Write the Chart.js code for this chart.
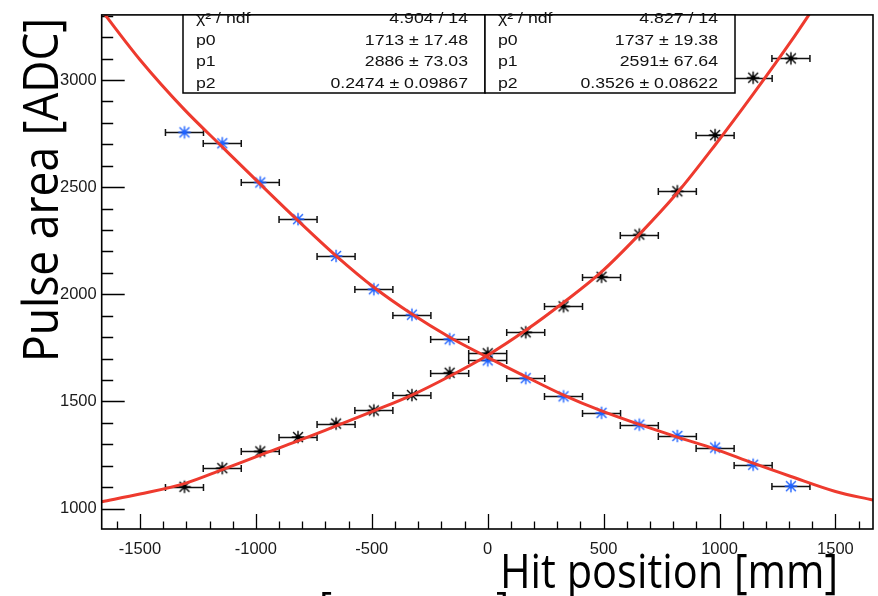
<!DOCTYPE html>
<html>
<head>
<meta charset="utf-8">
<script src="https://cdn.jsdelivr.net/npm/chart.js@4.4.1/dist/chart.umd.min.js"></script>
<style>
  html, body { margin: 0; padding: 0; background: #fff; overflow: hidden; }
  canvas { display: block; }
</style>
</head>
<body>
<canvas id="c" width="878" height="596"></canvas>
<script>
// Bin centres along the bar (mm); horizontal error bars span half a bin each side
const hitPositions = [-1308, -1145, -981, -818, -654, -491, -327, -164, 0, 164, 327, 491, 654, 818, 981, 1145, 1308];
const binHalfWidth = 82;

// Mean pulse area per bin, one series per read-out end
const pulseAreaBlack = [1102, 1189, 1267, 1334, 1397, 1458, 1530, 1634, 1725, 1823, 1944, 2082, 2279, 2481, 2743, 3011, 3101];
const pulseAreaBlue  = [2756, 2705, 2522, 2351, 2179, 2024, 1905, 1791, 1692, 1609, 1524, 1447, 1392, 1339, 1285, 1205, 1105];

// Fitted curves, sampled along the bar
const fitPositionsBlack = [-1665, -1500, -1308, -1145, -981, -818, -654, -491, -327, -164, 0, 164, 327, 491, 654, 818, 981, 1145, 1308, 1420];
const fitValuesBlack    = [1032, 1068, 1117, 1182, 1250, 1316, 1386, 1456, 1530, 1618, 1716, 1832, 1962, 2105, 2280, 2474, 2697, 2934, 3180, 3360];
const fitPositionsBlue  = [-1665, -1500, -1308, -1145, -981, -818, -654, -491, -327, -164, 0, 164, 327, 491, 654, 818, 981, 1145, 1308, 1500, 1662];
const fitValuesBlue     = [3325, 3095, 2862, 2688, 2514, 2344, 2180, 2033, 1908, 1800, 1706, 1616, 1530, 1456, 1393, 1334, 1278, 1212, 1150, 1080, 1040];

// Axis ticks
const xTickValues = [-1500, -1000, -500, 0, 500, 1000, 1500];
const yTickValues = [1000, 1500, 2000, 2500, 3000];

// Fit statistics boxes
const statsLabels = ['χ² / ndf', 'p0', 'p1', 'p2'];
const statsBlack  = ['4.904 / 14', '1713 ± 17.48', '2886 ± 73.03', '0.2474 ± 0.09867'];
const statsBlue   = ['4.827 / 14', '1737 ± 19.38', '2591± 67.64', '0.3526 ± 0.08622'];

const xTitle = 'Hit position [mm]';
const yTitle = 'Pulse area [ADC]';
// tops of a cut-off line of text below the plot
const clippedLine = ['[', ']'];

const RED = '#ee3a2e';
const BLUE = '#1f62ff';
const INK = '#111';

// Asterisk marker with a filled centre
function makeMarker(color) {
  const c = document.createElement('canvas');
  c.width = 16; c.height = 16;
  const g = c.getContext('2d');
  g.strokeStyle = color; g.fillStyle = color; g.lineWidth = 1.4;
  const r = 6.3, d = r * 0.78;
  g.beginPath();
  g.moveTo(8 - r, 8); g.lineTo(8 + r, 8);
  g.moveTo(8, 8 - r); g.lineTo(8, 8 + r);
  g.moveTo(8 - d, 8 - d); g.lineTo(8 + d, 8 + d);
  g.moveTo(8 - d, 8 + d); g.lineTo(8 + d, 8 - d);
  g.stroke();
  g.beginPath(); g.arc(8, 8, 2.4, 0, Math.PI * 2); g.fill();
  return c;
}

const toPoints = (xs, ys) => xs.map((x, i) => ({ x: x, y: ys[i] }));

// Horizontal error bars, inner tick marks and the frame
const rootFrame = {
  id: 'rootFrame',
  beforeDatasetsDraw(chart) {
    const { ctx, chartArea: a, scales: { x, y } } = chart;
    ctx.save();
    ctx.strokeStyle = '#000';
    ctx.lineWidth = 1.3;
    ctx.beginPath();
    for (let v = -1600; v <= 1600; v += 100) {
      const px = Math.round(x.getPixelForValue(v)) + 0.5;
      const len = v % 500 === 0 ? 15 : 7.5;
      ctx.moveTo(px, a.bottom); ctx.lineTo(px, a.bottom - len);
    }
    for (let v = 1000; v <= 3300; v += 100) {
      const py = Math.round(y.getPixelForValue(v)) + 0.5;
      const len = v % 500 === 0 ? 23 : 11.5;
      ctx.moveTo(a.left, py); ctx.lineTo(a.left + len, py);
    }
    ctx.stroke();

    // error bars
    ctx.strokeStyle = INK;
    ctx.lineWidth = 1.5;
    ctx.beginPath();
    [pulseAreaBlack, pulseAreaBlue].forEach(series => {
      series.forEach((val, i) => {
        const x0 = x.getPixelForValue(hitPositions[i] - binHalfWidth);
        const x1 = x.getPixelForValue(hitPositions[i] + binHalfWidth);
        const py = Math.round(y.getPixelForValue(val)) + 0.5;
        ctx.moveTo(x0, py); ctx.lineTo(x1, py);
        ctx.moveTo(x0, py - 3.5); ctx.lineTo(x0, py + 3.5);
        ctx.moveTo(x1, py - 3.5); ctx.lineTo(x1, py + 3.5);
      });
    });
    ctx.stroke();
    ctx.restore();
  },
  afterDatasetsDraw(chart) {
    const { ctx, chartArea: a } = chart;
    ctx.save();
    ctx.strokeStyle = '#000';
    ctx.lineWidth = 1.6;
    ctx.strokeRect(a.left, a.top, a.right - a.left, a.bottom - a.top);
    ctx.restore();
  }
};

function stretchedText(ctx, text, x, y, sx, align) {
  ctx.save();
  ctx.translate(x, y);
  ctx.scale(sx, 1);
  ctx.textAlign = align;
  ctx.fillText(text, 0, 0);
  ctx.restore();
}

// Stats boxes and axis titles
const annotations = {
  id: 'annotations',
  afterDraw(chart) {
    const { ctx, chartArea: a } = chart;
    ctx.save();
    const boxTop = a.top, boxBottom = 93;
    const boxes = [
      { left: 183, right: 485, values: statsBlack },
      { left: 485, right: 735, values: statsBlue }
    ];
    const baselines = [23, 44.5, 66, 87.5];
    boxes.forEach(b => {
      ctx.fillStyle = '#fff';
      ctx.fillRect(b.left, boxTop, b.right - b.left, boxBottom - boxTop);
      ctx.strokeStyle = '#000';
      ctx.lineWidth = 1.5;
      ctx.strokeRect(b.left, boxTop, b.right - b.left, boxBottom - boxTop);
      ctx.fillStyle = INK;
      ctx.font = '14.5px "Liberation Sans", Arial, sans-serif';
      ctx.textBaseline = 'alphabetic';
      statsLabels.forEach((lab, i) => {
        stretchedText(ctx, lab, b.left + 13, baselines[i], 1.22, 'left');
        stretchedText(ctx, b.values[i], b.right - 17, baselines[i], 1.22, 'right');
      });
    });

    // axis titles
    ctx.fillStyle = '#000';
    ctx.textBaseline = 'alphabetic';
    ctx.font = '47px "Open Sans", sans-serif';
    const wx = ctx.measureText(xTitle).width;
    ctx.save();
    ctx.translate(669, 588);
    ctx.scale(338 / wx, 1);
    ctx.textAlign = 'center';
    ctx.fillText(xTitle, 0, 0);
    ctx.restore();

    ctx.font = '50px "Open Sans", sans-serif';
    const wy = ctx.measureText(yTitle).width;
    ctx.save();
    ctx.translate(58, 190);
    ctx.rotate(-Math.PI / 2);
    ctx.scale(344 / wy, 1);
    ctx.textAlign = 'center';
    ctx.fillText(yTitle, 0, 0);
    ctx.restore();

    ctx.font = '40px "Open Sans", sans-serif';
    ctx.textAlign = 'left';
    ctx.fillText(clippedLine[0], 319, 621);
    ctx.fillText(clippedLine[1], 496, 621);
    ctx.restore();
  }
};

Chart.defaults.font.family = '"Liberation Sans", Arial, sans-serif';
Chart.defaults.color = '#1a1a1a';

new Chart(document.getElementById('c'), {
  type: 'scatter',
  data: {
    datasets: [
      {
        type: 'line', label: 'fit black', order: 0,
        data: toPoints(fitPositionsBlack, fitValuesBlack),
        borderColor: RED, borderWidth: 3, pointRadius: 0,
        cubicInterpolationMode: 'monotone', fill: false, clip: 0
      },
      {
        type: 'line', label: 'fit blue', order: 0,
        data: toPoints(fitPositionsBlue, fitValuesBlue),
        borderColor: RED, borderWidth: 3, pointRadius: 0,
        cubicInterpolationMode: 'monotone', fill: false, clip: 0
      },
      {
        label: 'black end', order: 1,
        data: toPoints(hitPositions, pulseAreaBlack),
        pointStyle: makeMarker('#000'), showLine: false
      },
      {
        label: 'blue end', order: 1,
        data: toPoints(hitPositions, pulseAreaBlue),
        pointStyle: makeMarker(BLUE), showLine: false
      }
    ]
  },
  options: {
    responsive: false,
    animation: false,
    events: [],
    layout: { padding: { top: 5.3, right: 4.7, left: 0, bottom: 0 } },
    plugins: { legend: { display: false }, tooltip: { enabled: false } },
    scales: {
      x: {
        type: 'linear', position: 'bottom', min: -1665, max: 1662,
        grid: { display: false }, border: { display: false },
        afterBuildTicks: s => { s.ticks = xTickValues.map(v => ({ value: v })); },
        afterFit: s => { s.height = 67; },
        ticks: {
          padding: 3, maxRotation: 0, autoSkip: false,
          font: { size: 16.5 }, color: '#1a1a1a',
          callback: v => String(v)
        }
      },
      y: {
        type: 'linear', position: 'left', min: 905, max: 3304,
        grid: { display: false, drawTicks: false, tickLength: 0 }, border: { display: false },
        afterBuildTicks: s => { s.ticks = yTickValues.map(v => ({ value: v })); },
        afterFit: s => { s.width = 101.7; },
        ticks: {
          padding: 5, autoSkip: false,
          font: { size: 16.5 }, color: '#1a1a1a',
          callback: v => String(v)
        }
      }
    }
  },
  plugins: [rootFrame, annotations]
});
</script>
</body>
</html>
